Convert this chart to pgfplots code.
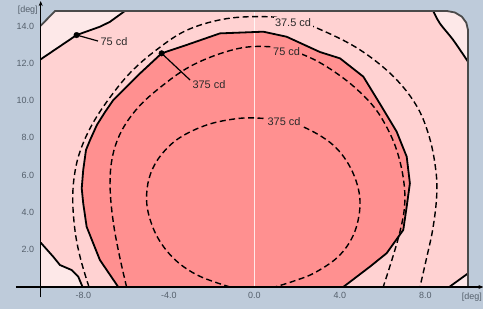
\documentclass[border=0pt]{standalone}
\usepackage{pgfplots}
\pgfplotsset{compat=1.18}
\usepackage{fontspec}
\setmainfont{Liberation Sans}
\usetikzlibrary{arrows.meta}
\definecolor{bg}{HTML}{BECBDA}
\definecolor{lightest}{HTML}{FDE8E8}
\definecolor{midpink}{HTML}{FFD2D2}
\definecolor{redfill}{HTML}{FF9090}
\definecolor{ticklab}{HTML}{55606C}
\definecolor{framec}{HTML}{4A4A4A}
\definecolor{labc}{HTML}{2A2A2A}
\begin{document}
\begin{tikzpicture}[x=1bp,y=1bp]
\fill[bg] (0,0) rectangle (483,309);
\begin{axis}[
  at={(40.7bp,22bp)}, anchor=south west,
  width=427.3bp, height=276bp, scale only axis,
  xmin=-10, xmax=10, ymin=0, ymax=14.8,
  clip=false,
  axis line style={draw=none},
  tick style={draw=none},
  xtick={-8,-4,0,4,8},
  xticklabels={-8.0,-4.0,0.0,4.0,8.0},
  ytick={2,4,6,8,10,12,14},
  yticklabels={2.0,4.0,6.0,8.0,10.0,12.0,14.0},
  xtick pos=bottom, ytick pos=left,
  tick label style={font=\fontsize{9}{10}\selectfont, text=ticklab},
  xticklabel style={yshift=-1.5bp},
  yticklabel style={xshift=-3bp},
  every axis plot/.append style={line join=round},
]
% fills
\addplot[fill=midpink, draw=none] coordinates {(-10,0) (10,0) (10,13.78) (9.92,14.17) (9.71,14.50) (9.39,14.72) (9.01,14.8) (-9.33,14.8) (-10,14.01)} -- cycle;
\addplot[fill=lightest, draw=none] coordinates {(-10,12.21) (-8.32,13.51) (-7.22,13.96) (-6.76,14.22) (-6.06,14.8) (-9.33,14.8) (-10,14.01)} -- cycle;
\addplot[fill=lightest, draw=none] coordinates {(8.37,14.8) (8.68,14.14) (9.31,13.24) (10,12.08) (10,13.78) (9.92,14.17) (9.71,14.50) (9.39,14.72) (9.01,14.8)} -- cycle;
\addplot[fill=lightest, draw=none] coordinates {(-10,0) (-10,2.38) (-9.41,1.62) (-9.10,1.18) (-8.55,0.91) (-8.24,0.55) (-8.04,0)} -- cycle;
\addplot[fill=lightest, draw=none] coordinates {(9.12,0) (10,0.73) (10,0)} -- cycle;
\addplot[fill=redfill, draw=none] coordinates {
(-6.37,0) (-7.23,1.45) (-7.85,3.23) (-8.01,4.49) (-8.08,5.29) (-8.01,6.27) (-7.88,7.35) (-7.69,7.88) (-7.37,8.69) (-6.99,9.38) (-6.60,10.03) (-5.43,11.37) (-4.34,12.53) (-3.17,12.98) (-1.61,13.60) (0.42,13.69) (1.51,13.42) (3.07,12.60) (4.01,12.26) (5.10,11.28) (5.96,9.67) (6.66,8.33) (7.13,6.99) (7.28,5.56) (7.13,4.31) (6.97,3.06) (6.19,1.81) (5.41,1.09) (4.16,0)} -- cycle;
% white centre line
\draw[white, line width=0.8bp, opacity=0.8] (axis cs:0,0) -- (axis cs:0,14.8);
% solid contours
\addplot[black, line width=1.8bp] coordinates {
(-6.37,0) (-7.23,1.45) (-7.85,3.23) (-8.01,4.49) (-8.08,5.29) (-8.01,6.27) (-7.88,7.35) (-7.69,7.88) (-7.37,8.69) (-6.99,9.38) (-6.60,10.03) (-5.43,11.37) (-4.34,12.53) (-3.17,12.98) (-1.61,13.60) (0.42,13.69) (1.51,13.42) (3.07,12.60) (4.01,12.26) (5.10,11.28) (5.96,9.67) (6.66,8.33) (7.13,6.99) (7.28,5.56) (7.13,4.31) (6.97,3.06) (6.19,1.81) (5.41,1.09) (4.16,0)};
\addplot[black, line width=1.8bp] coordinates {(-10,12.21) (-8.32,13.51) (-7.22,13.96) (-6.76,14.22) (-6.06,14.8)};
\addplot[black, line width=1.8bp, smooth, tension=0.5] coordinates {(8.37,14.8) (8.68,14.14) (9.31,13.24) (10,12.08)};
\addplot[black, line width=1.8bp] coordinates {(-10,2.38) (-9.41,1.62) (-9.10,1.18) (-8.55,0.91) (-8.24,0.55) (-8.04,0)};
\addplot[black, line width=1.8bp] coordinates {(9.12,0) (10,0.73)};
% dashed contours
\addplot[black, line width=1.4bp, dash pattern=on 6bp off 3.5bp, smooth, tension=0.6] coordinates {
(-7.74,0) (-8.12,1.45) (-8.38,2.9) (-8.5,4.6) (-8.42,6.0) (-8.15,7.3) (-7.6,8.7) (-6.8,10.1) (-5.8,11.5) (-4.6,12.7) (-3.2,13.75) (-1.5,14.35) (0.2,14.5) (1.7,14.35) (3.1,13.8) (4.9,12.75) (6.5,11.3) (7.6,9.7) (8.2,8.0) (8.5,6.2) (8.53,4.8) (8.35,3.1) (8.05,1.5) (7.75,0)};
\addplot[black, line width=1.4bp, dash pattern=on 6bp off 3.5bp, smooth, tension=0.6] coordinates {
(-5.98,0) (-6.30,1.6) (-6.58,3.3) (-6.74,5.0) (-6.72,6.4) (-6.50,7.6) (-6.05,8.7) (-5.3,9.8) (-4.3,10.8) (-3.2,11.7) (-2.0,12.35) (-0.7,12.8) (0.4,12.9) (1.5,12.75) (2.7,12.25) (3.8,11.5) (4.8,10.6) (5.7,9.5) (6.4,8.1) (6.8,6.8) (7.02,5.4) (7.02,4.2) (6.8,2.9) (6.45,1.5) (6.03,0)};
\addplot[black, line width=1.4bp, dash pattern=on 6bp off 3.5bp, smooth, tension=0.6] coordinates {
(-1.14,0) (-2.6,0.6) (-3.7,1.45) (-4.5,2.6) (-4.95,3.9) (-5.04,5.0) (-4.85,6.1) (-4.35,7.1) (-3.5,8.0) (-2.2,8.7) (-0.8,9.03) (0.3,9.05) (1.5,8.88) (2.6,8.42) (3.7,7.6) (4.45,6.5) (4.88,5.2) (4.92,4.0) (4.6,2.7) (3.9,1.6) (2.8,0.75) (1.8,0.3) (0.96,0)};
% frame
\draw[framec, line width=1.8bp, line join=round] (axis cs:-10,14.01) -- (axis cs:-9.33,14.8) -- (axis cs:9.01,14.8) -- (axis cs:9.39,14.72) -- (axis cs:9.71,14.50) -- (axis cs:9.92,14.17) -- (axis cs:10,13.78) -- (axis cs:10,0);
% axes
\draw[black, line width=1.3bp, -{Stealth[length=5bp,width=4bp]}] (axis cs:-11.16,0) -- (axis cs:10.72,0);
\draw[black, line width=1.3bp, -{Stealth[length=5bp,width=4bp]}] (axis cs:-10,-0.55) -- (axis cs:-10,15.33);
% leader lines and dots
\addplot[black, line width=1.2bp] coordinates {(-8.32,13.51) (-7.32,13.19)};
\addplot[black, line width=1.2bp] coordinates {(-4.34,12.53) (-3.01,11.10)};
\addplot[only marks, mark=*, mark size=2.8bp, black] coordinates {(-8.32,13.51) (-4.34,12.53)};
% labels
\node[font=\fontsize{11}{12}\selectfont, text=labc, anchor=west, inner sep=1bp] at (axis cs:-7.25,13.17) {75 cd};
\node[font=\fontsize{11}{12}\selectfont, text=labc, anchor=west, inner sep=1bp] at (axis cs:-2.95,10.88) {375 cd};
\node[font=\fontsize{11}{12}\selectfont, text=labc, fill=midpink, inner sep=1.5bp] at (axis cs:1.81,14.16) {37.5 cd};
\node[font=\fontsize{11}{12}\selectfont, text=labc, fill=redfill, inner sep=1.5bp] at (axis cs:1.51,12.62) {75 cd};
\node[font=\fontsize{11}{12}\selectfont, text=labc, fill=redfill, inner sep=1.5bp] at (axis cs:1.39,8.86) {375 cd};
% unit labels
\node[font=\fontsize{9}{10}\selectfont, text=ticklab, anchor=east, inner sep=0pt] at (axis cs:-10.13,14.85) {[deg]};
\node[font=\fontsize{9}{10}\selectfont, text=ticklab, anchor=east, inner sep=0pt] at (axis cs:10.66,-0.55) {[deg]};
\end{axis}
\pgfresetboundingbox
\useasboundingbox (0,0) rectangle (483,309);
\end{tikzpicture}
\end{document}
